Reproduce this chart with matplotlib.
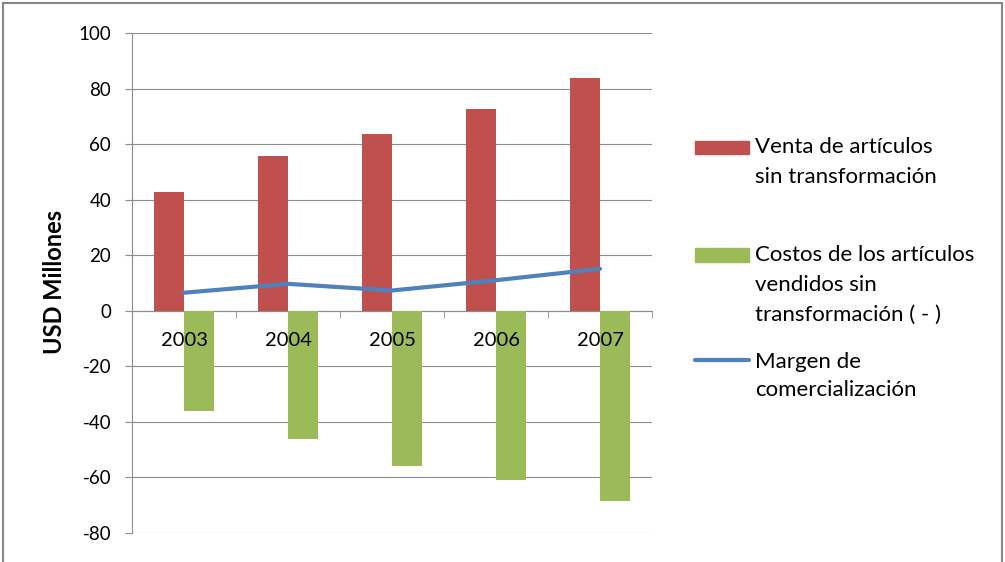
import numpy as np
import matplotlib
matplotlib.use("Agg")
import matplotlib.pyplot as plt
from matplotlib.patches import Rectangle
from matplotlib.lines import Line2D

years = ["2003", "2004", "2005", "2006", "2007"]
venta = [42.7, 55.7, 63.8, 72.5, 83.9]
costos = [-36.0, -46.1, -56.0, -60.8, -68.4]
margen = [6.5, 9.7, 7.3, 11.0, 15.1]

red = "#C0504D"
green = "#9BBB59"
blue = "#4F81BD"
grid_c = "#8C8C8C"

plt.rcParams["font.family"] = ["Lato", "DejaVu Sans"]
plt.rcParams["axes.unicode_minus"] = False

W, H = 1005, 562
fig = plt.figure(figsize=(W / 100, H / 100), dpi=100)
ax = fig.add_axes([132 / W, 1 - 533 / H, 520 / W, 500 / H])

x = np.arange(len(years))
bw = 0.288
ax.bar(x - bw / 2, venta, bw, color=red, zorder=2)
ax.bar(x + bw / 2, costos, bw, color=green, zorder=2)
ax.plot(x, margen, color=blue, lw=3, solid_capstyle="round", zorder=3)

ax.set_xlim(-0.5, 4.5)
ax.set_ylim(-80, 100)
ax.set_yticks(range(-80, 101, 20))
ax.yaxis.grid(True, color=grid_c, lw=0.8, zorder=0)
ax.tick_params(axis="y", length=5, color=grid_c, pad=10, labelsize=13.5)

ax.spines["top"].set_visible(False)
ax.spines["right"].set_visible(False)
ax.spines["left"].set_color(grid_c)
ax.spines["bottom"].set_color(grid_c)
ax.spines["bottom"].set_position(("data", 0))
ax.spines["bottom"].set_zorder(1)

ax.set_xticks(x)
ax.set_xticklabels(years)
ax.set_xticks(np.arange(-0.5, 5, 1), minor=True)
ax.tick_params(axis="x", which="major", length=0, pad=15, labelsize=14.5)
ax.tick_params(axis="x", which="minor", length=5, color=grid_c)
ax.xaxis.set_zorder(5)

fig.text(54 / W, 1 - 282 / H, "USD Millones", rotation=90, fontsize=17,
         fontweight="bold", ha="center", va="center")

# legend drawn by hand to match the spaced layout
def fy(py):
    return 1 - py / H

fig.patches.append(Rectangle((695 / W, fy(154)), 54 / W, 13 / H,
                             transform=fig.transFigure, color=red))
fig.patches.append(Rectangle((695 / W, fy(262)), 54 / W, 14 / H,
                             transform=fig.transFigure, color=green))
fig.lines.append(Line2D([695 / W, 749 / W], [fy(360), fy(360)],
                        transform=fig.transFigure, color=blue, lw=3,
                        solid_capstyle="round"))

leg_lines = [
    (147, "Venta de artículos"), (177, "sin transformación"),
    (255, "Costos de los artículos"), (285, "vendidos sin"),
    (315, "transformación ( - )"),
    (362, "Margen de"), (390, "comercialización"),
]
for py, s in leg_lines:
    fig.text(755 / W, fy(py), s, fontsize=16, ha="left", va="center")

# outer chart frame
fig.patches.append(Rectangle((3 / W, -0.02), (W - 6) / W, 1 - 3 / H + 0.02,
                             transform=fig.transFigure, fill=False,
                             edgecolor="#878787", lw=1.5))

fig.savefig("out.png", dpi=100)
